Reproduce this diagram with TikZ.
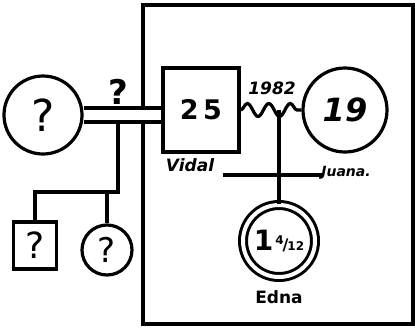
\documentclass[tikz,border=0pt]{standalone}
\usepackage{fontspec}
\setmainfont{DejaVu Sans}
\usetikzlibrary{decorations.pathmorphing,calc}
\begin{document}
\begin{tikzpicture}[x=1pt,y=-1pt,
  every path/.style={line width=3.2pt},
  circ/.style={draw,circle,line width=3.2pt,inner sep=0pt},
  sq/.style={draw,rectangle,line width=3.2pt,inner sep=0pt},
  lbl/.style={inner sep=0pt}]
\useasboundingbox (0,0) rectangle (415,327);
% household boundary
\draw[line width=3.2pt] (143,5) rectangle (413,324);
% nodes
\node[circ,minimum size=78pt,font=\fontsize{44}{44}\selectfont] (u) at (43,115) {?};
\node[sq,minimum width=76pt,minimum height=84pt,font=\bfseries\fontsize{27}{27}\selectfont] (v) at (201,110) {2\,5};
\node[circ,minimum size=84pt,font=\bfseries\itshape\fontsize{32}{32}\selectfont] (j) at (345,110) {19};
\node[circ,minimum size=72pt,double,double distance=4pt,line width=3pt] (e) at (279,241) {};
\node[font=\bfseries] at (e.center) {\fontsize{28}{28}\selectfont 1\hspace{2pt}\raisebox{6pt}{\fontsize{12}{12}\selectfont 4}\hspace{-1pt}\fontsize{16}{16}\selectfont/\hspace{-1pt}\fontsize{12}{12}\selectfont 12};
\node[sq,minimum width=43pt,minimum height=47pt,font=\fontsize{36}{36}\selectfont] (s1) at (35,245.5) {?};
\node[circ,minimum width=47pt,minimum height=50pt,font=\fontsize{34}{34}\selectfont] (s2) at (107,250) {?};
% marriage lines
\draw[double,double distance=10.8pt,line width=3.2pt] (u.east) -- (u.east -| v.west);
\draw[decorate,decoration={snake,amplitude=6.5pt,segment length=21.5pt}] (v.east) -- (j.west);
% parents' children
\coordinate (dl) at (118,121.5);
\coordinate (sb) at (118,192);
\draw (dl) -- (sb) -| (s1.north);
\draw (s2.north) -- (s2.north |- sb);
% child of couple
\draw (e.north |- v.east) -- (e.north);
\coordinate (ha) at (223,175);
\coordinate (hb) at (323,175);
\draw (ha) -- (hb);
% labels
\node[lbl,font=\bfseries\fontsize{34}{34}\selectfont] at (118,92) {?};
\node[lbl,font=\bfseries\itshape\fontsize{17}{17}\selectfont] at (190,165) {Vidal};
\node[lbl,font=\bfseries\itshape\fontsize{17}{17}\selectfont] at (272,88) {1982};
\node[lbl,font=\bfseries\itshape\fontsize{14}{14}\selectfont] at (346,173) {Juana.};
\node[lbl,font=\bfseries\fontsize{17}{17}\selectfont] at (279,297) {Edna};
\end{tikzpicture}
\end{document}
